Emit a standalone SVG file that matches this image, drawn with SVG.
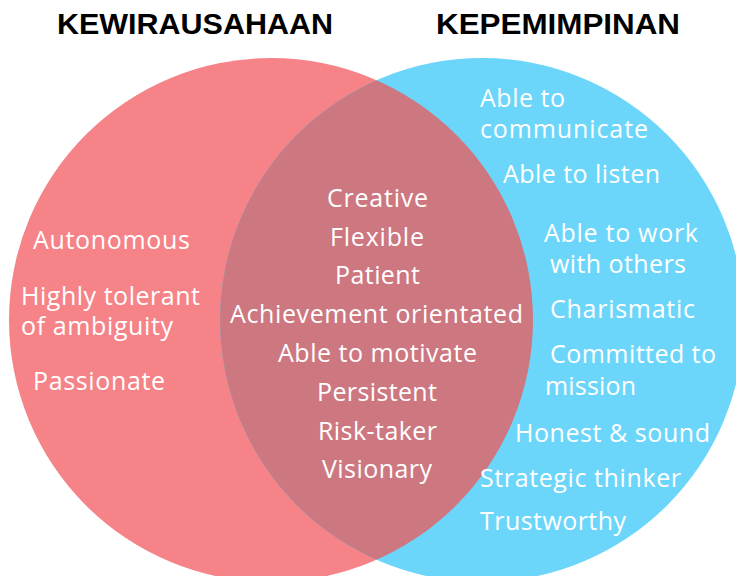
<svg xmlns="http://www.w3.org/2000/svg" width="736" height="576" viewBox="0 0 736 576">
  <style>
    .title { font-family: "Liberation Sans", Arial, sans-serif; font-weight: bold; font-size: 29px; fill: #000000; }
    .lbl { font-family: "Open Sans", "DejaVu Sans", sans-serif; font-size: 25px; fill: #ffffff; }
  </style>
  <defs>
    <clipPath id="clipLeft">
      <circle cx="271" cy="320" r="262"/>
    </clipPath>
  </defs>
  <rect x="0" y="0" width="736" height="576" fill="#ffffff"/>
  <g id="circle-kewirausahaan">
    <circle cx="271" cy="320" r="262" fill="#F68388"/>
  </g>
  <g id="circle-kepemimpinan">
    <circle cx="482" cy="320" r="262" fill="#6CD6FA"/>
  </g>
  <g id="overlap">
    <circle cx="482" cy="320" r="262" fill="#CD7781" clip-path="url(#clipLeft)"/>
  </g>
  <g id="titles">
    <text class="title" x="57" y="34" textLength="276" lengthAdjust="spacingAndGlyphs">KEWIRAUSAHAAN</text>
    <text class="title" x="436" y="34" textLength="244" lengthAdjust="spacingAndGlyphs">KEPEMIMPINAN</text>
  </g>
  <g id="kewirausahaan-traits">
    <text class="lbl" x="33" y="249" textLength="157">Autonomous</text>
    <text class="lbl" x="21" y="305" textLength="179">Highly tolerant</text>
    <text class="lbl" x="21" y="335" textLength="152">of ambiguity</text>
    <text class="lbl" x="33" y="390" textLength="132">Passionate</text>
  </g>
  <g id="shared-traits">
    <text class="lbl" x="327" y="207" textLength="101">Creative</text>
    <text class="lbl" x="330" y="246" textLength="94">Flexible</text>
    <text class="lbl" x="335" y="284" textLength="85">Patient</text>
    <text class="lbl" x="230" y="323" textLength="293">Achievement orientated</text>
    <text class="lbl" x="278" y="362" textLength="199">Able to motivate</text>
    <text class="lbl" x="317" y="401" textLength="120">Persistent</text>
    <text class="lbl" x="318" y="440" textLength="119">Risk-taker</text>
    <text class="lbl" x="322" y="478" textLength="110">Visionary</text>
  </g>
  <g id="kepemimpinan-traits">
    <text class="lbl" x="480" y="107" textLength="85">Able to</text>
    <text class="lbl" x="480" y="138" textLength="168">communicate</text>
    <text class="lbl" x="503" y="183" textLength="157">Able to listen</text>
    <text class="lbl" x="544" y="242" textLength="154">Able to work</text>
    <text class="lbl" x="550" y="273" textLength="136">with others</text>
    <text class="lbl" x="550" y="318" textLength="145">Charismatic</text>
    <text class="lbl" x="550" y="363" textLength="166">Committed to</text>
    <text class="lbl" x="545" y="395" textLength="91">mission</text>
    <text class="lbl" x="515" y="442" textLength="195">Honest &amp; sound</text>
    <text class="lbl" x="480" y="487" textLength="201">Strategic thinker</text>
    <text class="lbl" x="480" y="530" textLength="146">Trustworthy</text>
  </g>
</svg>
